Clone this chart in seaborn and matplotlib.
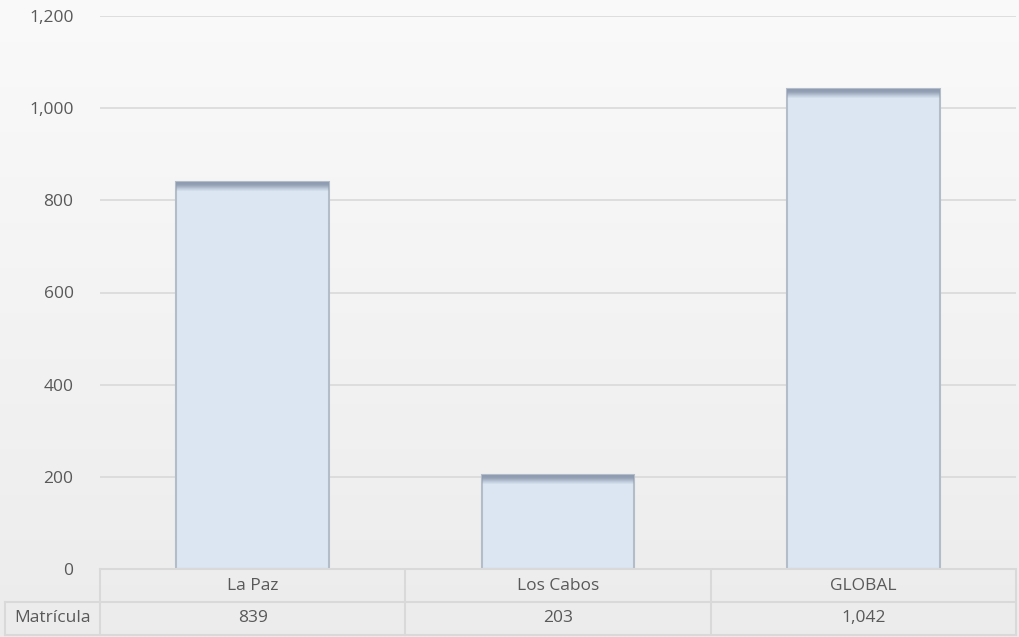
import numpy as np
import matplotlib
matplotlib.use("Agg")
import matplotlib.pyplot as plt
from matplotlib.patches import Rectangle
import pandas as pd
import seaborn as sns

# data
sedes = ["La Paz", "Los Cabos", "GLOBAL"]
matricula = [839, 203, 1042]
serie = "Matrícula"
yticks = [0, 200, 400, 600, 800, 1000, 1200]

df = pd.DataFrame({"sede": sedes, "valor": matricula})

sns.set_theme(style="white")
plt.rcParams["font.family"] = ["Open Sans", "DejaVu Sans"]

W, H = 1019, 637
fig = plt.figure(figsize=(W / 100, H / 100), dpi=100)

# soft gray gradient background
bg = fig.add_axes([0, 0, 1, 1], zorder=-10)
grad = np.linspace(0, 1, 256).reshape(-1, 1)
top = np.array([0.980, 0.980, 0.980])
bot = np.array([0.925, 0.925, 0.925])
img = top + (bot - top) * grad[:, :, None]
bg.imshow(img, aspect="auto", extent=[0, 1, 0, 1])
bg.axis("off")

x0, x1 = 100 / W, 1016 / W
y0, y1 = 1 - 569 / H, 1 - 16 / H
ax = fig.add_axes([x0, y0, x1 - x0, y1 - y0])
ax.patch.set_alpha(0)

sns.barplot(data=df, x="sede", y="valor", ax=ax, color="#dce6f2", saturation=1,
            width=0.5, edgecolor="#b3bdca", linewidth=1.5, zorder=3)

# dark top strip to mimic the bevel shading
px = 1200 / 553
for p in ax.patches[:len(sedes)]:
    h = p.get_height()
    for k, a in enumerate([1, 1, 0.95, 0.85, 0.7, 0.55, 0.4, 0.25, 0.12]):
        ax.add_patch(Rectangle((p.get_x(), h - (k + 1) * px), p.get_width(), px,
                               color="#8f9cb1", alpha=a, lw=0, zorder=4))

ax.set_ylim(0, 1200)
ax.set_yticks(yticks)
ax.set_yticklabels([f"{v:,}" for v in yticks], color="#595959", fontsize=12.5)
ax.tick_params(axis="y", length=0, pad=19)
ax.set_xticks([])
ax.set_xlabel("")
ax.set_ylabel("")
ax.grid(axis="y", color="#d9d9d9", lw=1.2, zorder=0)
for s in ax.spines.values():
    s.set_visible(False)
ax.set_xlim(-0.5, 2.5)

# data table below the plot
tc = "#d9d9d9"
row_h = 33 / H
left_lbl = 5 / W
t_top = y0
fig.add_artist(plt.Line2D([x0, x1], [t_top, t_top], color=tc, lw=1.5))
fig.add_artist(plt.Line2D([left_lbl, x1], [t_top - row_h, t_top - row_h], color=tc, lw=1.5))
fig.add_artist(plt.Line2D([left_lbl, x1], [t_top - 2 * row_h, t_top - 2 * row_h], color=tc, lw=1.5))
cw = (x1 - x0) / len(sedes)
for i in range(len(sedes) + 1):
    xx = x0 + i * cw
    fig.add_artist(plt.Line2D([xx, xx], [t_top, t_top - 2 * row_h], color=tc, lw=1.5))
fig.add_artist(plt.Line2D([left_lbl, left_lbl], [t_top - row_h, t_top - 2 * row_h], color=tc, lw=1.5))

for i, (s, v) in enumerate(zip(sedes, matricula)):
    cx = x0 + (i + 0.5) * cw
    fig.text(cx, t_top - row_h / 2, s, ha="center", va="center", color="#595959", fontsize=12.5)
    fig.text(cx, t_top - 1.5 * row_h, f"{v:,}", ha="center", va="center", color="#595959", fontsize=12.5)
fig.text((left_lbl + x0) / 2, t_top - 1.5 * row_h, serie, ha="center", va="center",
         color="#595959", fontsize=12.5)

fig.savefig("out.png", dpi=100)
